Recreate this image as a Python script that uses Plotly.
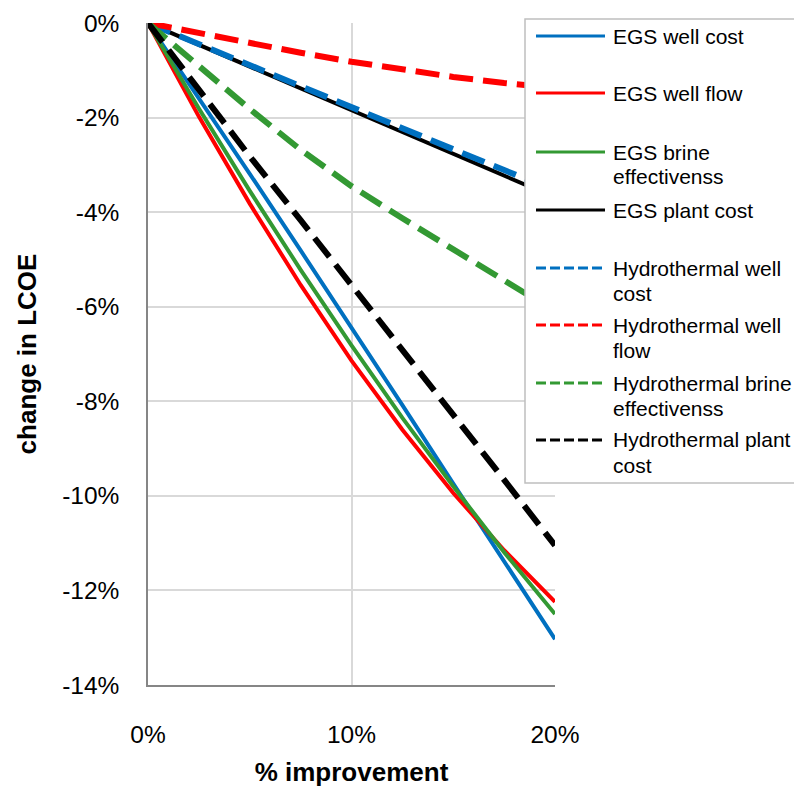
import plotly.graph_objects as go

# ---------------- data ----------------
improvement = [0, 0.025, 0.05, 0.075, 0.10, 0.125, 0.15, 0.175, 0.20]

egs_well_cost = [0, -1.59, -3.19, -4.81, -6.44, -8.08, -9.74, -11.39, -13.03]
egs_well_flow = [0, -1.98, -3.82, -5.54, -7.14, -8.60, -9.94, -11.15, -12.24]
egs_brine_eff = [0, -1.81, -3.55, -5.22, -6.82, -8.35, -9.80, -11.19, -12.50]
egs_plant_cost = [0, -0.46, -0.93, -1.39, -1.85, -2.31, -2.77, -3.23, -3.69]
hyd_well_cost = [0, -0.45, -0.90, -1.34, -1.78, -2.22, -2.67, -3.11, -3.55]
hyd_well_flow = [0, -0.22, -0.43, -0.63, -0.82, -0.99, -1.14, -1.27, -1.37]
hyd_brine_eff = [0, -0.92, -1.82, -2.68, -3.45, -4.13, -4.78, -5.45, -6.10]
hyd_plant_cost = [0, -1.41, -2.82, -4.17, -5.53, -6.90, -8.28, -9.66, -11.05]

series_names = [
    "EGS well cost", "EGS well flow", "EGS brine effectivenss", "EGS plant cost",
    "Hydrothermal well cost", "Hydrothermal well flow",
    "Hydrothermal brine effectivenss", "Hydrothermal plant cost",
]
legend_labels = [
    ["EGS well cost"], ["EGS well flow"], ["EGS brine", "effectivenss"], ["EGS plant cost"],
    ["Hydrothermal well", "cost"], ["Hydrothermal well", "flow"],
    ["Hydrothermal brine", "effectivenss"], ["Hydrothermal plant", "cost"],
]
series_values = [egs_well_cost, egs_well_flow, egs_brine_eff, egs_plant_cost,
                 hyd_well_cost, hyd_well_flow, hyd_brine_eff, hyd_plant_cost]

x_ticks = [0, 0.1, 0.2]
x_tick_labels = ["0%", "10%", "20%"]
y_ticks = [0, -0.02, -0.04, -0.06, -0.08, -0.10, -0.12, -0.14]
y_tick_labels = ["0%", "-2%", "-4%", "-6%", "-8%", "-10%", "-12%", "-14%"]

# ---------------- styles ----------------
BLUE, RED, GREEN, BLACK = "#0070C0", "#FF0000", "#339933", "#000000"
colors = [BLUE, RED, GREEN, BLACK, BLUE, RED, GREEN, BLACK]
dashed = [False] * 4 + [True] * 4
FONT = "Arial, 'Liberation Sans', sans-serif"

W, H = 794, 787
ML, MR, MT, MB = 148, 239, 23, 102
PW, PH = W - ML - MR, H - MT - MB


def pxx(p):
    return (p - ML) / PW


def pxy(p):
    return (H - MB - p) / PH


fig = go.Figure()
for name, vals, c, d in zip(series_names, series_values, colors, dashed):
    fig.add_trace(go.Scatter(
        x=improvement, y=[v / 100 for v in vals], mode="lines", name=name,
        line=dict(color=c, width=6 if d else 4, dash="24px,10px" if d else "solid"),
        showlegend=False, hoverinfo="skip",
    ))

# ---------------- manual legend (matches reference look) ----------------
shapes = [dict(type="rect", xref="paper", yref="paper",
               x0=pxx(525), x1=pxx(800), y0=pxy(483), y1=pxy(19),
               fillcolor="white", line=dict(color="#BFBFBF", width=1.5), layer="above")]
annotations = []
row_y = [36, 93, 152, 210, 268, 325, 383, 440]
for labels, c, d, ry in zip(legend_labels, colors, dashed, row_y):
    shapes.append(dict(type="line", xref="paper", yref="paper",
                       x0=pxx(536), x1=pxx(605), y0=pxy(ry), y1=pxy(ry),
                       line=dict(color=c, width=3, dash="10px,4px" if d else "solid"),
                       layer="above"))
    for i, t in enumerate(labels):
        annotations.append(dict(text=t, xref="paper", yref="paper",
                                x=pxx(611), y=pxy(ry + 25 * i), xanchor="left",
                                yanchor="middle", showarrow=False,
                                font=dict(family=FONT, size=21, color="black")))

fig.update_layout(
    width=W, height=H,
    margin=dict(l=ML, r=MR, t=MT, b=MB, autoexpand=False),
    paper_bgcolor="white", plot_bgcolor="white",
    font=dict(family=FONT, color="black"),
    shapes=shapes, annotations=annotations,
    showlegend=False,
    xaxis=dict(range=[0, 0.2], tickvals=x_ticks, ticktext=x_tick_labels,
               showgrid=True, gridcolor="#D9D9D9", gridwidth=1.5,
               showline=True, linecolor="#868686", linewidth=1.5,
               zeroline=False, ticks="", ticklabelstandoff=27,
               tickfont=dict(size=24.5, family=FONT, color="black"),
               title=dict(text="<b>% improvement</b>", standoff=18,
                          font=dict(size=26, family=FONT, color="black"))),
    yaxis=dict(range=[-0.14, 0], tickvals=y_ticks, ticktext=y_tick_labels,
               showgrid=True, gridcolor="#D9D9D9", gridwidth=1.5,
               showline=True, linecolor="#868686", linewidth=1.5,
               zeroline=False, ticks="", ticklabelstandoff=22,
               tickfont=dict(size=24.5, family=FONT, color="black"),
               title=dict(text="<b>change in LCOE</b>", standoff=18,
                          font=dict(size=26, family=FONT, color="black"))),
)

fig.write_html("out.html", config={"displayModeBar": False},
               post_script="document.body.style.margin='0';")
